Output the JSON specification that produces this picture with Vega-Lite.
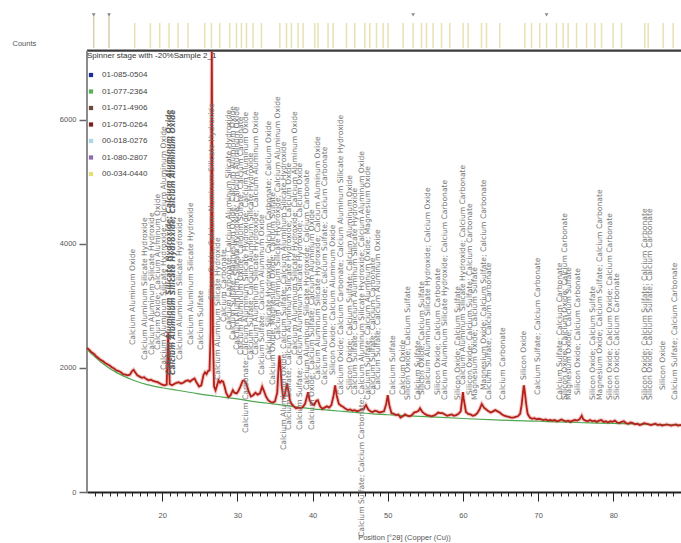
{
  "$schema": "https://vega.github.io/schema/vega-lite/v6.json",
  "width": 594,
  "height": 492,
  "autosize": "none",
  "padding": {"left": 87, "top": 0, "right": 0, "bottom": 51},
  "background": "white",
  "config": {"view": {"stroke": null}, "font": "Liberation Sans", "axis": {"grid": false}},
  "datasets": {
    "scan": [
      {"t":10.0,"c":2320},{"t":10.3,"c":2290},{"t":10.6,"c":2250},{"t":10.9,"c":2230},{"t":11.2,"c":2190},{"t":11.5,"c":2160},{"t":11.8,"c":2130},{"t":12.1,"c":2110},{"t":12.4,"c":2080},{"t":12.7,"c":2060},{"t":13.0,"c":2040},{"t":13.3,"c":2010},{"t":13.6,"c":1990},{"t":13.9,"c":1960},{"t":14.2,"c":1950},{"t":14.5,"c":1930},{"t":14.8,"c":1900},{"t":15.1,"c":1890},{"t":15.4,"c":1880},{"t":15.7,"c":1890},{"t":16.0,"c":1950},{"t":16.2,"c":1970},{"t":16.4,"c":1930},{"t":16.7,"c":1880},{"t":17.0,"c":1860},{"t":17.3,"c":1840},{"t":17.6,"c":1850},{"t":17.9,"c":1820},{"t":18.2,"c":1800},{"t":18.5,"c":1810},{"t":18.8,"c":1790},{"t":19.1,"c":1780},{"t":19.4,"c":1770},{"t":19.7,"c":1750},{"t":20.0,"c":1730},{"t":20.3,"c":1720},{"t":20.6,"c":1730},{"t":20.8,"c":2560},{"t":21.0,"c":1740},{"t":21.3,"c":1720},{"t":21.6,"c":1740},{"t":21.9,"c":1760},{"t":22.2,"c":1770},{"t":22.5,"c":1750},{"t":22.8,"c":1760},{"t":23.1,"c":1790},{"t":23.4,"c":1800},{"t":23.7,"c":1780},{"t":24.0,"c":1810},{"t":24.3,"c":1830},{"t":24.6,"c":1760},{"t":24.9,"c":1700},{"t":25.2,"c":1720},{"t":25.5,"c":1890},{"t":25.7,"c":1930},{"t":25.9,"c":1900},{"t":26.1,"c":1950},{"t":26.3,"c":1960},{"t":26.45,"c":2600},{"t":26.6,"c":7100},{"t":26.75,"c":2500},{"t":26.9,"c":1700},{"t":27.1,"c":1640},{"t":27.3,"c":1720},{"t":27.5,"c":1800},{"t":27.7,"c":1760},{"t":27.9,"c":1790},{"t":28.1,"c":1780},{"t":28.3,"c":1700},{"t":28.5,"c":1600},{"t":28.8,"c":1530},{"t":29.1,"c":1560},{"t":29.4,"c":1640},{"t":29.6,"c":1600},{"t":29.9,"c":1590},{"t":30.1,"c":1620},{"t":30.4,"c":1700},{"t":30.7,"c":1790},{"t":30.9,"c":1800},{"t":31.2,"c":1740},{"t":31.5,"c":1620},{"t":31.8,"c":1540},{"t":32.1,"c":1560},{"t":32.4,"c":1600},{"t":32.7,"c":1570},{"t":33.0,"c":1590},{"t":33.3,"c":1700},{"t":33.5,"c":1640},{"t":33.8,"c":1540},{"t":34.1,"c":1480},{"t":34.4,"c":1450},{"t":34.7,"c":1440},{"t":35.0,"c":1460},{"t":35.3,"c":1600},{"t":35.5,"c":2050},{"t":35.6,"c":2200},{"t":35.7,"c":2080},{"t":35.9,"c":1700},{"t":36.1,"c":1520},{"t":36.3,"c":1560},{"t":36.6,"c":1750},{"t":36.8,"c":1620},{"t":37.0,"c":1470},{"t":37.2,"c":1420},{"t":37.5,"c":1380},{"t":37.8,"c":1350},{"t":38.1,"c":1360},{"t":38.4,"c":1350},{"t":38.7,"c":1370},{"t":39.0,"c":1420},{"t":39.3,"c":1560},{"t":39.4,"c":1610},{"t":39.6,"c":1480},{"t":39.9,"c":1420},{"t":40.2,"c":1400},{"t":40.5,"c":1470},{"t":40.7,"c":1480},{"t":41.0,"c":1380},{"t":41.3,"c":1340},{"t":41.6,"c":1360},{"t":41.9,"c":1380},{"t":42.2,"c":1360},{"t":42.5,"c":1400},{"t":42.8,"c":1560},{"t":43.0,"c":1720},{"t":43.2,"c":1560},{"t":43.5,"c":1420},{"t":43.8,"c":1390},{"t":44.1,"c":1370},{"t":44.4,"c":1340},{"t":44.7,"c":1320},{"t":45.0,"c":1330},{"t":45.3,"c":1310},{"t":45.6,"c":1320},{"t":45.9,"c":1300},{"t":46.2,"c":1310},{"t":46.5,"c":1330},{"t":46.8,"c":1340},{"t":47.1,"c":1400},{"t":47.4,"c":1330},{"t":47.7,"c":1300},{"t":48.0,"c":1290},{"t":48.3,"c":1310},{"t":48.6,"c":1300},{"t":48.9,"c":1280},{"t":49.2,"c":1290},{"t":49.5,"c":1300},{"t":49.8,"c":1420},{"t":50.0,"c":1560},{"t":50.2,"c":1400},{"t":50.5,"c":1270},{"t":50.8,"c":1260},{"t":51.1,"c":1240},{"t":51.4,"c":1250},{"t":51.7,"c":1200},{"t":52.0,"c":1220},{"t":52.3,"c":1250},{"t":52.6,"c":1230},{"t":52.9,"c":1220},{"t":53.2,"c":1240},{"t":53.5,"c":1280},{"t":53.8,"c":1290},{"t":54.1,"c":1310},{"t":54.3,"c":1350},{"t":54.6,"c":1290},{"t":54.9,"c":1260},{"t":55.2,"c":1240},{"t":55.5,"c":1230},{"t":55.8,"c":1220},{"t":56.1,"c":1230},{"t":56.4,"c":1250},{"t":56.7,"c":1280},{"t":57.0,"c":1270},{"t":57.3,"c":1270},{"t":57.6,"c":1250},{"t":57.9,"c":1230},{"t":58.2,"c":1240},{"t":58.5,"c":1250},{"t":58.8,"c":1230},{"t":59.1,"c":1240},{"t":59.4,"c":1260},{"t":59.7,"c":1300},{"t":59.9,"c":1500},{"t":60.0,"c":1610},{"t":60.1,"c":1500},{"t":60.4,"c":1290},{"t":60.7,"c":1260},{"t":61.0,"c":1250},{"t":61.3,"c":1230},{"t":61.6,"c":1240},{"t":61.9,"c":1270},{"t":62.2,"c":1330},{"t":62.5,"c":1420},{"t":62.8,"c":1360},{"t":63.1,"c":1330},{"t":63.4,"c":1300},{"t":63.7,"c":1280},{"t":64.0,"c":1300},{"t":64.3,"c":1320},{"t":64.6,"c":1300},{"t":64.9,"c":1280},{"t":65.2,"c":1250},{"t":65.5,"c":1230},{"t":65.8,"c":1220},{"t":66.1,"c":1210},{"t":66.4,"c":1200},{"t":66.7,"c":1200},{"t":67.0,"c":1210},{"t":67.3,"c":1220},{"t":67.6,"c":1260},{"t":67.8,"c":1400},{"t":68.0,"c":1620},{"t":68.1,"c":1720},{"t":68.2,"c":1640},{"t":68.4,"c":1430},{"t":68.6,"c":1260},{"t":68.9,"c":1200},{"t":69.2,"c":1180},{"t":69.5,"c":1190},{"t":69.8,"c":1170},{"t":70.1,"c":1180},{"t":70.4,"c":1170},{"t":70.7,"c":1160},{"t":71.0,"c":1170},{"t":71.3,"c":1150},{"t":71.6,"c":1160},{"t":71.9,"c":1150},{"t":72.2,"c":1160},{"t":72.5,"c":1140},{"t":72.8,"c":1150},{"t":73.1,"c":1170},{"t":73.4,"c":1150},{"t":73.7,"c":1140},{"t":74.0,"c":1150},{"t":74.3,"c":1130},{"t":74.6,"c":1150},{"t":74.9,"c":1160},{"t":75.2,"c":1150},{"t":75.5,"c":1170},{"t":75.8,"c":1230},{"t":76.0,"c":1170},{"t":76.3,"c":1150},{"t":76.6,"c":1140},{"t":76.9,"c":1160},{"t":77.2,"c":1140},{"t":77.5,"c":1150},{"t":77.8,"c":1130},{"t":78.1,"c":1150},{"t":78.4,"c":1160},{"t":78.7,"c":1130},{"t":79.0,"c":1140},{"t":79.3,"c":1120},{"t":79.6,"c":1140},{"t":79.9,"c":1130},{"t":80.2,"c":1150},{"t":80.5,"c":1120},{"t":80.8,"c":1110},{"t":81.1,"c":1130},{"t":81.4,"c":1140},{"t":81.7,"c":1110},{"t":82.0,"c":1100},{"t":82.3,"c":1120},{"t":82.6,"c":1110},{"t":82.9,"c":1090},{"t":83.2,"c":1100},{"t":83.5,"c":1080},{"t":83.8,"c":1090},{"t":84.1,"c":1110},{"t":84.4,"c":1100},{"t":84.7,"c":1090},{"t":85.0,"c":1080},{"t":85.3,"c":1090},{"t":85.6,"c":1100},{"t":85.9,"c":1080},{"t":86.2,"c":1090},{"t":86.5,"c":1070},{"t":86.8,"c":1080},{"t":87.1,"c":1090},{"t":87.4,"c":1080},{"t":87.7,"c":1070},{"t":88.0,"c":1080},{"t":88.3,"c":1090},{"t":88.6,"c":1070},{"t":89.0,"c":1080}
    ],
    "bg": [
      {"t":10,"c":2300},{"t":12,"c":2080},{"t":14,"c":1920},{"t":16,"c":1810},{"t":18,"c":1730},{"t":20,"c":1680},{"t":22,"c":1640},{"t":24,"c":1600},{"t":26,"c":1560},{"t":28,"c":1530},{"t":30,"c":1500},{"t":32,"c":1460},{"t":34,"c":1430},{"t":36,"c":1400},{"t":38,"c":1370},{"t":40,"c":1340},{"t":42,"c":1320},{"t":44,"c":1300},{"t":46,"c":1280},{"t":48,"c":1260},{"t":50,"c":1245},{"t":55,"c":1215},{"t":60,"c":1185},{"t":65,"c":1160},{"t":70,"c":1140},{"t":75,"c":1120},{"t":80,"c":1105},{"t":85,"c":1090},{"t":89,"c":1080}
    ],
    "labels": [
      {"t":16.08,"c":2370,"txt":"Calcium Aluminum Oxide"},
      {"t":17.68,"c":2128,"txt":"Calcium Aluminum Silicate Hydroxide"},
      {"t":18.61,"c":2208,"txt":"Calcium Aluminum Silicate Hydroxide"},
      {"t":19.4,"c":2289,"txt":"Calcium Oxide; Calcium Aluminum Oxide"},
      {"t":20.2,"c":1967,"txt":"Calcium Aluminum Silicate Hydroxide; Calcium Aluminum Oxide"},
      {"t":22.33,"c":2128,"txt":"Calcium Aluminum Silicate Hydroxide"},
      {"t":23.8,"c":2370,"txt":"Calcium Aluminum Silicate Hydroxide"},
      {"t":25.13,"c":2289,"txt":"Calcium Sulfate"},
      {"t":26.59,"c":3095,"txt":"Silicon Oxide; Calcium Aluminum Silicate Hydroxide"},
      {"t":27.39,"c":1805,"txt":"Calcium Aluminum Silicate Hydroxide"},
      {"t":28.19,"c":2740,"txt":"Calcium Carbonate"},
      {"t":28.85,"c":2611,"txt":"Calcium Carbonate; Calcium Aluminum Silicate Hydroxide"},
      {"t":29.38,"c":2450,"txt":"Calcium Sulfate; Magnesium Oxide; Calcium Aluminum Oxide"},
      {"t":29.91,"c":2289,"txt":"Calcium Aluminum Silicate Hydroxide; Calcium Aluminum Oxide"},
      {"t":30.45,"c":2208,"txt":"Calcium Aluminum Oxide; Calcium Sulfate; Calcium Carbonate"},
      {"t":31.12,"c":951,"txt":"Calcium Carbonate; Calcium Aluminum Silicate Hydroxide; Calcium Aluminum Oxide"},
      {"t":31.78,"c":2128,"txt":"Calcium Sulfate; Calcium Aluminum Silicate Hydroxide"},
      {"t":32.45,"c":2208,"txt":"Calcium Aluminum Silicate Hydroxide; Calcium Aluminum Oxide"},
      {"t":33.24,"c":1886,"txt":"Calcium Sulfate; Calcium Aluminum Oxide"},
      {"t":34.17,"c":2128,"txt":"Calcium Silicate Hydroxide; Calcium Carbonate; Calcium Oxide"},
      {"t":34.7,"c":1725,"txt":"Calcium Oxide; Magnesium Oxide; Calcium Sulfate"},
      {"t":35.37,"c":2450,"txt":"Calcium Aluminum Silicate Hydroxide; Calcium Aluminum Oxide"},
      {"t":36.16,"c":677,"txt":"Calcium Aluminum Oxide; Calcium Sulfate; Calcium Aluminum Silicate Hydroxide"},
      {"t":36.83,"c":999,"txt":"Calcium Sulfate; Calcium Aluminum Silicate Hydroxide; Calcium Oxide"},
      {"t":37.63,"c":2208,"txt":"Calcium Aluminum Silicate Hydroxide; Calcium Aluminum Oxide"},
      {"t":38.29,"c":999,"txt":"Calcium Sulfate; Calcium Aluminum Silicate Hydroxide; Calcium Oxide"},
      {"t":39.22,"c":1644,"txt":"Calcium Aluminum Silicate Hydroxide; Calcium Carbonate"},
      {"t":39.89,"c":999,"txt":"Calcium Oxide; Calcium Sulfate; Calcium Aluminum Oxide"},
      {"t":40.69,"c":1805,"txt":"Calcium Aluminum Silicate Hydroxide; Calcium Aluminum Oxide"},
      {"t":41.62,"c":1725,"txt":"Calcium Aluminum Oxide; Calcium Sulfate; Calcium Carbonate"},
      {"t":42.69,"c":1886,"txt":"Silicon Oxide; Calcium Aluminum Oxide"},
      {"t":43.75,"c":1564,"txt":"Calcium Oxide; Calcium Carbonate; Calcium Aluminum Silicate Hydroxide"},
      {"t":44.95,"c":1644,"txt":"Silicon Oxide; Calcium Sulfate; Calcium Aluminum Oxide"},
      {"t":45.61,"c":1564,"txt":"Calcium Sulfate; Calcium Aluminum Silicate Hydroxide"},
      {"t":46.55,"c":-725,"txt":"Calcium Sulfate; Calcium Carbonate; Calcium Aluminum Silicate Hydroxide; Calcium Aluminum Oxide"},
      {"t":47.35,"c":1483,"txt":"Calcium Sulfate; Calcium Aluminum Oxide; Magnesium Oxide"},
      {"t":48.02,"c":1564,"txt":"Calcium Sulfate; Calcium Carbonate"},
      {"t":48.68,"c":1644,"txt":"Calcium Sulfate; Calcium Aluminum Oxide"},
      {"t":50.67,"c":1564,"txt":"Calcium Sulfate"},
      {"t":52.0,"c":1564,"txt":"Calcium Oxide"},
      {"t":52.67,"c":1483,"txt":"Silicon Oxide; Calcium Sulfate"},
      {"t":54.0,"c":1483,"txt":"Calcium Sulfate"},
      {"t":54.53,"c":1564,"txt":"Silicon Oxide; Calcium Sulfate"},
      {"t":55.33,"c":1644,"txt":"Calcium Aluminum Silicate Hydroxide; Calcium Oxide"},
      {"t":56.66,"c":1564,"txt":"Silicon Oxide; Calcium Carbonate"},
      {"t":57.59,"c":1483,"txt":"Calcium Aluminum Silicate Hydroxide; Calcium Carbonate"},
      {"t":59.32,"c":1483,"txt":"Silicon Oxide; Calcium Sulfate"},
      {"t":59.99,"c":1725,"txt":"Calcium Aluminum Silicate Hydroxide; Calcium Carbonate"},
      {"t":60.92,"c":1564,"txt":"Silicon Oxide; Calcium Sulfate; Calcium Carbonate"},
      {"t":61.58,"c":1483,"txt":"Magnesium Oxide; Calcium Sulfate"},
      {"t":62.78,"c":1644,"txt":"Magnesium Oxide; Calcium Sulfate; Calcium Carbonate"},
      {"t":63.45,"c":1483,"txt":"Calcium Sulfate; Calcium Carbonate"},
      {"t":65.31,"c":1483,"txt":"Calcium Carbonate"},
      {"t":68.1,"c":1805,"txt":"Silicon Oxide"},
      {"t":69.97,"c":1564,"txt":"Calcium Sulfate; Calcium Carbonate"},
      {"t":72.89,"c":1483,"txt":"Calcium Sulfate; Calcium Carbonate"},
      {"t":73.56,"c":1483,"txt":"Silicon Oxide; Calcium Oxide; Calcium Carbonate"},
      {"t":74.1,"c":1483,"txt":"Magnesium Oxide; Calcium Sulfate"},
      {"t":75.29,"c":1564,"txt":"Silicon Oxide; Calcium Carbonate"},
      {"t":77.28,"c":1483,"txt":"Silicon Oxide; Calcium Sulfate"},
      {"t":78.21,"c":1483,"txt":"Magnesium Oxide; Calcium Sulfate; Calcium Carbonate"},
      {"t":79.54,"c":1483,"txt":"Silicon Oxide; Calcium Oxide; Calcium Carbonate"},
      {"t":80.5,"c":1483,"txt":"Silicon Oxide; Calcium Carbonate"},
      {"t":84.2,"c":1483,"txt":"Silicon Oxide; Calcium Sulfate; Calcium Carbonate"},
      {"t":84.86,"c":1483,"txt":"Silicon Oxide; Calcium Sulfate; Calcium Carbonate"},
      {"t":86.59,"c":1644,"txt":"Silicon Oxide"},
      {"t":88.19,"c":1483,"txt":"Calcium Sulfate; Calcium Carbonate"}
    ],
    "boldLabels": [
      {"t":20.95,"c":1886,"txt":"Calcium Aluminum Silicate Hydroxide; Calcium Aluminum Oxide"},
      {"t":21.5,"c":1886,"txt":"Calcium Aluminum Silicate Hydroxide; Calcium Aluminum Oxide"}
    ],
    "strip": [
      {"t":16.35},{"t":18.43},{"t":19.67},{"t":20.91},{"t":22.11},{"t":23.44},{"t":25.66},{"t":26.55},{"t":27.65},{"t":28.98},{"t":29.88},{"t":30.54},{"t":31.21},{"t":32.08},{"t":33.2},{"t":35.64},{"t":36.53},{"t":37.19},{"t":38.07},{"t":38.74},{"t":40.29},{"t":40.73},{"t":42.06},{"t":42.73},{"t":44.51},{"t":45.61},{"t":46.94},{"t":47.61},{"t":48.5},{"t":49.38},{"t":50.04},{"t":52.04},{"t":53.37},{"t":54.49},{"t":55.15},{"t":56.03},{"t":57.15},{"t":58.25},{"t":60.02},{"t":60.69},{"t":62.47},{"t":63.13},{"t":64.9},{"t":68.23},{"t":69.12},{"t":70.22},{"t":71.12},{"t":72.44},{"t":73.32},{"t":73.99},{"t":75.11},{"t":76.44},{"t":77.54},{"t":78.43},{"t":79.97},{"t":81.09},{"t":84.19},{"t":84.63},{"t":86.63},{"t":87.96}
    ],
    "stripTall": [{"t":10.89},{"t":12.93}],
    "markers": [{"t":10.89},{"t":12.93},{"t":53.37},{"t":71.12}],
    "legend": [
      {"code":"01-085-0504"},{"code":"01-077-2364"},{"code":"01-071-4906"},{"code":"01-075-0264"},{"code":"00-018-0276"},{"code":"01-080-2807"},{"code":"00-034-0440"}
    ]
  },
  "layer": [
    {
      "data": {"name": "scan"},
      "mark": {"type": "line", "color": "#e06a60", "strokeWidth": 4, "opacity": 0.35},
      "encoding": {
        "x": {
          "field": "t", "type": "quantitative",
          "scale": {"domain": [10, 89], "nice": false},
          "axis": {
            "values": [11,12,13,14,15,16,17,18,19,20,21,22,23,24,25,26,27,28,29,30,31,32,33,34,35,36,37,38,39,40,41,42,43,44,45,46,47,48,49,50,51,52,53,54,55,56,57,58,59,60,61,62,63,64,65,66,67,68,69,70,71,72,73,74,75,76,77,78,79,80,81,82,83,84,85,86,87,88],
            "tickCount": 200,
            "format": "d",
            "labelExpr": "datum.value % 10 === 0 ? datum.label : ''",
            "labelOverlap": false,
            "labelFlush": false,
            "tickSize": {"condition": {"test": "datum.value % 10 === 0", "value": 9}, "value": 4},
            "tickColor": "#222",
            "tickWidth": 1,
            "domainColor": "#222",
            "domainWidth": 2,
            "labelFontSize": 7.5,
            "labelColor": "#555",
            "labelPadding": 10,
            "title": "Position [°2θ] (Copper (Cu))",
            "titleFontSize": 7.5,
            "titleFontWeight": "normal",
            "titleColor": "#555",
            "titleX": 317,
            "titleY": 45,
            "titleBaseline": "middle"
          }
        },
        "y": {
          "field": "c", "type": "quantitative",
          "scale": {"domain": [0, 7930], "nice": false},
          "axis": {
            "values": [0, 2000, 4000, 6000],
            "format": "d",
            "domain": false,
            "tickSize": 8,
            "tickColor": "#666",
            "tickWidth": 1.5,
            "labelFontSize": 7.5,
            "labelColor": "#555",
            "labelPadding": 3,
            "title": "Counts",
            "titleAngle": 0,
            "titleX": -75,
            "titleY": 43,
            "titleAlign": "left",
            "titleBaseline": "middle",
            "titleFontSize": 7.5,
            "titleFontWeight": "normal",
            "titleColor": "#555"
          }
        }
      }
    },
    {
      "data": {"name": "strip"},
      "mark": {"type": "rule", "color": "#e8e1b2", "strokeWidth": 1.5},
      "encoding": {
        "x": {"field": "t", "type": "quantitative", "scale": {"domain": [10, 89], "nice": false}},
        "y": {"datum": 7157, "type": "quantitative", "scale": {"domain": [0, 7930], "nice": false}},
        "y2": {"datum": 7560}
      }
    },
    {
      "data": {"name": "stripTall"},
      "mark": {"type": "rule", "color": "#d6cfa8", "strokeWidth": 1.5},
      "encoding": {
        "x": {"field": "t", "type": "quantitative", "scale": {"domain": [10, 89], "nice": false}},
        "y": {"datum": 7157, "type": "quantitative", "scale": {"domain": [0, 7930], "nice": false}},
        "y2": {"datum": 7721}
      }
    },
    {
      "data": {"name": "markers"},
      "mark": {"type": "point", "shape": "triangle-down", "filled": true, "color": "#8a8a8a", "size": 14, "opacity": 1},
      "encoding": {
        "x": {"field": "t", "type": "quantitative", "scale": {"domain": [10, 89], "nice": false}},
        "y": {"datum": 7690, "type": "quantitative", "scale": {"domain": [0, 7930], "nice": false}}
      }
    },
    {
      "data": {"values": [{}]},
      "mark": {"type": "rule", "color": "#3c3c3c", "strokeWidth": 2.2},
      "encoding": {
        "x": {"datum": 10, "type": "quantitative", "scale": {"domain": [10, 89], "nice": false}},
        "x2": {"datum": 89},
        "y": {"datum": 7113, "type": "quantitative", "scale": {"domain": [0, 7930], "nice": false}}
      }
    },
    {
      "data": {"values": [{}]},
      "mark": {"type": "rule", "color": "#8c8c8c", "strokeWidth": 2},
      "encoding": {
        "x": {"datum": 10, "type": "quantitative", "scale": {"domain": [10, 89], "nice": false}},
        "y": {"datum": 0, "type": "quantitative", "scale": {"domain": [0, 7930], "nice": false}},
        "y2": {"datum": 7113}
      }
    },
    {
      "data": {"name": "bg"},
      "mark": {"type": "line", "color": "#4fa84f", "strokeWidth": 1.2, "interpolate": "monotone"},
      "encoding": {
        "x": {"field": "t", "type": "quantitative", "scale": {"domain": [10, 89], "nice": false}},
        "y": {"field": "c", "type": "quantitative", "scale": {"domain": [0, 7930], "nice": false}}
      }
    },
    {
      "data": {"name": "scan"},
      "mark": {"type": "line", "color": "#b3211b", "strokeWidth": 1.8},
      "encoding": {
        "x": {"field": "t", "type": "quantitative", "scale": {"domain": [10, 89], "nice": false}},
        "y": {"field": "c", "type": "quantitative", "scale": {"domain": [0, 7930], "nice": false}}
      }
    },
    {
      "data": {"name": "labels"},
      "mark": {"type": "text", "angle": 270, "align": "left", "baseline": "middle", "font": "DejaVu Sans", "fontSize": 7.6, "color": "#757575"},
      "encoding": {
        "x": {"field": "t", "type": "quantitative", "scale": {"domain": [10, 89], "nice": false}},
        "y": {"field": "c", "type": "quantitative", "scale": {"domain": [0, 7930], "nice": false}},
        "text": {"field": "txt"}
      }
    },
    {
      "data": {"name": "boldLabels"},
      "mark": {"type": "text", "angle": 270, "align": "left", "baseline": "middle", "font": "DejaVu Sans", "fontSize": 7.4, "fontWeight": "bold", "fontStyle": "italic", "color": "#606060"},
      "encoding": {
        "x": {"field": "t", "type": "quantitative", "scale": {"domain": [10, 89], "nice": false}},
        "y": {"field": "c", "type": "quantitative", "scale": {"domain": [0, 7930], "nice": false}},
        "text": {"field": "txt"}
      }
    },
    {
      "data": {"name": "legend"},
      "mark": {"type": "point", "shape": "square", "filled": true, "opacity": 0},
      "encoding": {
        "color": {
          "field": "code", "type": "nominal",
          "scale": {
            "domain": ["01-085-0504","01-077-2364","01-071-4906","01-075-0264","00-018-0276","01-080-2807","00-034-0440"],
            "range": ["#1f2a9c","#56b356","#6b4a3a","#7a1f1f","#a6d9e3","#8e6bb0","#e5df7a"]
          },
          "legend": {
            "orient": "none",
            "legendX": 0,
            "legendY": 52,
            "padding": 0,
            "title": "Spinner stage with -20%Sample 2_1",
            "titleFontSize": 8,
            "titleFontWeight": "normal",
            "titleColor": "#333",
            "titlePadding": 11,
            "labelFontSize": 8,
            "labelColor": "#444",
            "labelOffset": 7,
            "symbolType": "square",
            "symbolSize": 18,
            "symbolOpacity": 1,
            "symbolStrokeWidth": 0,
            "rowPadding": 8.5
          }
        }
      }
    }
  ]
}
